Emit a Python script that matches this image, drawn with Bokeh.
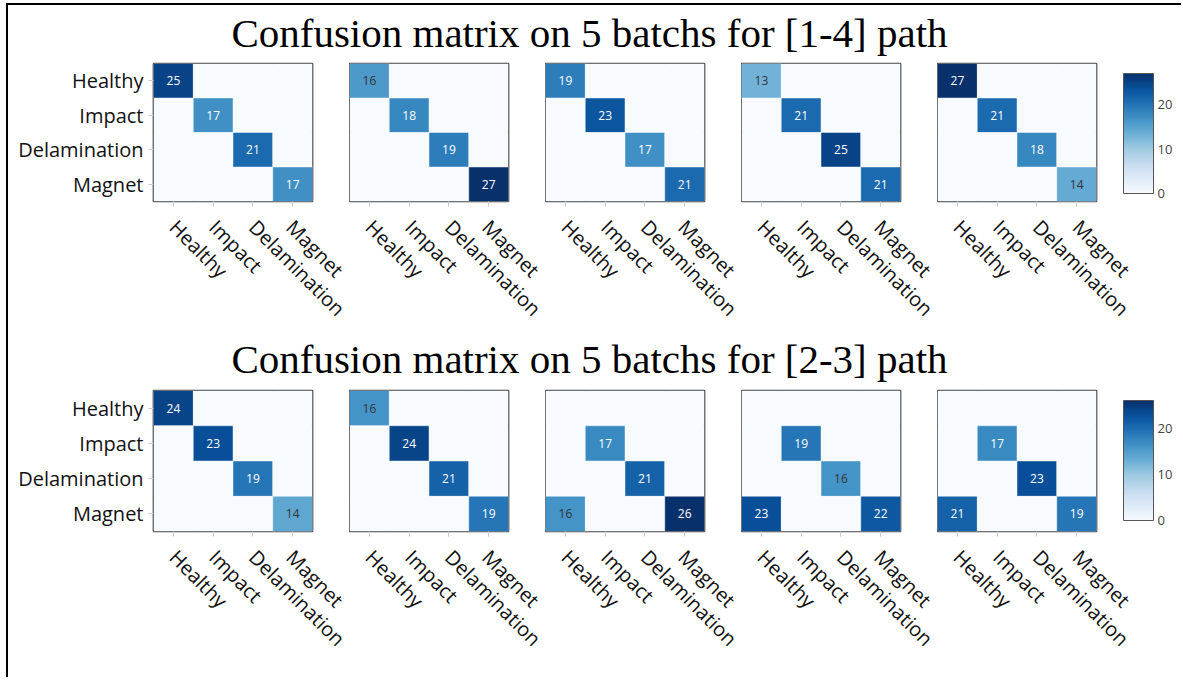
import numpy as np
from bokeh.plotting import figure
from bokeh.models import ColumnDataSource, LinearColorMapper, ColorBar, FixedTicker, Label, Range1d
from bokeh.layouts import row, column
from bokeh.palettes import Blues256
from bokeh.core.properties import value
from bokeh.embed import file_html
from bokeh.resources import INLINE

# ---------------- data ----------------
classes = ["Healthy", "Impact", "Delamination", "Magnet"]

# rows = true class, columns = predicted class (order of `classes`)
path14_b1 = [[25, 0, 0, 0], [0, 17, 0, 0], [0, 0, 21, 0], [0, 0, 0, 17]]
path14_b2 = [[16, 0, 0, 0], [0, 18, 0, 0], [0, 0, 19, 0], [0, 0, 0, 27]]
path14_b3 = [[19, 0, 0, 0], [0, 23, 0, 0], [0, 0, 17, 0], [0, 0, 0, 21]]
path14_b4 = [[13, 0, 0, 0], [0, 21, 0, 0], [0, 0, 25, 0], [0, 0, 0, 21]]
path14_b5 = [[27, 0, 0, 0], [0, 21, 0, 0], [0, 0, 18, 0], [0, 0, 0, 14]]

path23_b1 = [[24, 0, 0, 0], [0, 23, 0, 0], [0, 0, 19, 0], [0, 0, 0, 14]]
path23_b2 = [[16, 0, 0, 0], [0, 24, 0, 0], [0, 0, 21, 0], [0, 0, 0, 19]]
path23_b3 = [[0, 0, 0, 0], [0, 17, 0, 0], [0, 0, 21, 0], [16, 0, 0, 26]]
path23_b4 = [[0, 0, 0, 0], [0, 19, 0, 0], [0, 0, 16, 0], [23, 0, 0, 22]]
path23_b5 = [[0, 0, 0, 0], [0, 17, 0, 0], [0, 0, 23, 0], [21, 0, 0, 19]]

titles = ["Confusion matrix on 5 batchs for [1-4] path",
          "Confusion matrix on 5 batchs for [2-3] path"]
colorbar_ticks = [0, 10, 20]

rows_data = [
    [path14_b1, path14_b2, path14_b3, path14_b4, path14_b5],
    [path23_b1, path23_b2, path23_b3, path23_b4, path23_b5],
]

# ---------------- style ----------------
palette = list(reversed(Blues256))
LABEL_FONT = "Open Sans"
TITLE_FONT = "Liberation Serif"

FRAME_W = 159
FIRST_LEFT = 145
LEFT = 0
RIGHT = 37
CB_PANEL = 85


def matrix_fig(mat, idx, mapper, high, height, top, bottom, cb_y):
    xs, ys, vals, txt, tcol, la = [], [], [], [], [], []
    for i, true_c in enumerate(classes):
        for j, pred_c in enumerate(classes):
            v = mat[i][j]
            xs.append(pred_c)
            ys.append(true_c)
            vals.append(v)
            txt.append(str(v) if v else "")
            tcol.append("white" if v / high >= 0.62 else "#333333")
            la.append(0.45 if v else 0.0)
    src = ColumnDataSource(dict(x=xs, y=ys, v=vals, t=txt, c=tcol, la=la))

    left = FIRST_LEFT if idx == 0 else LEFT
    right = CB_PANEL if idx == 4 else RIGHT
    width = left + FRAME_W + right
    p = figure(x_range=classes, y_range=classes[::-1], width=width, height=height,
               output_backend="svg", toolbar_location=None,
               min_border_left=left, min_border_right=right,
               min_border_top=top, min_border_bottom=bottom)
    p.rect(x="x", y="y", width=1, height=1, source=src,
           fill_color={"field": "v", "transform": mapper},
           line_color="white", line_alpha="la", line_width=1)
    nz = ColumnDataSource(dict(
        x=[x for x, t in zip(xs, txt) if t], y=[y for y, t in zip(ys, txt) if t],
        t=[t for t in txt if t], c=[c for c, t in zip(tcol, txt) if t]))
    p.text(x="x", y="y", text="t", source=nz, text_color="c",
           text_align="center", text_baseline="middle",
           text_font=value(LABEL_FONT), text_font_size="12px")

    p.grid.visible = False
    p.outline_line_color = "#444444"
    p.outline_line_width = 1.7
    p.x_range.range_padding = 0
    p.y_range.range_padding = 0

    for ax in (p.xaxis[0], p.yaxis[0]):
        ax.axis_line_color = None
        ax.major_tick_line_color = "#cccccc"
        ax.major_tick_out = 5
        ax.major_tick_in = 0
        ax.minor_tick_line_color = None
        ax.major_label_text_font = LABEL_FONT
        ax.major_label_text_font_size = "20px"
        ax.major_label_text_color = "#111111"

    p.xaxis.major_label_orientation = -np.pi / 4
    p.xaxis.major_label_standoff = 17
    p.yaxis.major_label_standoff = 5
    if idx != 0:
        p.yaxis.visible = False

    if idx == 4:
        cb = ColorBar(color_mapper=mapper, ticker=FixedTicker(ticks=colorbar_ticks),
                      width=30, height=120, location=(27, cb_y),
                      padding=0, margin=0,
                      bar_line_color="#555555", bar_line_width=1,
                      border_line_color=None, background_fill_color=None,
                      major_tick_line_color=None, minor_tick_line_color=None,
                      label_standoff=4,
                      major_label_text_font=LABEL_FONT,
                      major_label_text_font_size="13px",
                      major_label_text_color="#444444")
        p.add_layout(cb, "right")
    return p


def title_fig(text, width, height, baseline, cx):
    p = figure(width=width, height=height, x_range=Range1d(0, width), y_range=Range1d(0, height),
               output_backend="svg", toolbar_location=None,
               x_axis_type=None, y_axis_type=None, min_border=0)
    p.grid.visible = False
    p.outline_line_color = None
    p.add_layout(Label(x=cx, y=baseline, text=text,
                       text_align="center", text_baseline="alphabetic",
                       text_font=TITLE_FONT, text_font_size="41px",
                       text_color="black"))
    return p


total_w = (FIRST_LEFT + FRAME_W + RIGHT) + 3 * (LEFT + FRAME_W + RIGHT) + (LEFT + FRAME_W + CB_PANEL)

row_specs = [(277, 6, 130, 8), (292, 5, 146, 11)]
title_specs = [(52, 25), (51, 27)]
blocks = []
for r, mats in enumerate(rows_data):
    high = max(max(max(rr) for rr in m) for m in mats)
    mapper = LinearColorMapper(palette=palette, low=0, high=high)
    h, top, bottom, cby = row_specs[r]
    figs = [matrix_fig(m, k, mapper, high, h, top, bottom, cby) for k, m in enumerate(mats)]
    th, tb = title_specs[r]
    blocks.append(title_fig(titles[r], total_w, th, tb, 581))
    blocks.append(row(*figs))

layout = column(*blocks, styles={"border-left": "2px solid black",
                                 "border-top": "2px solid black",
                                 "margin-left": "6px",
                                 "margin-top": "3px"})

open("out.html", "w").write(file_html(layout, INLINE))
